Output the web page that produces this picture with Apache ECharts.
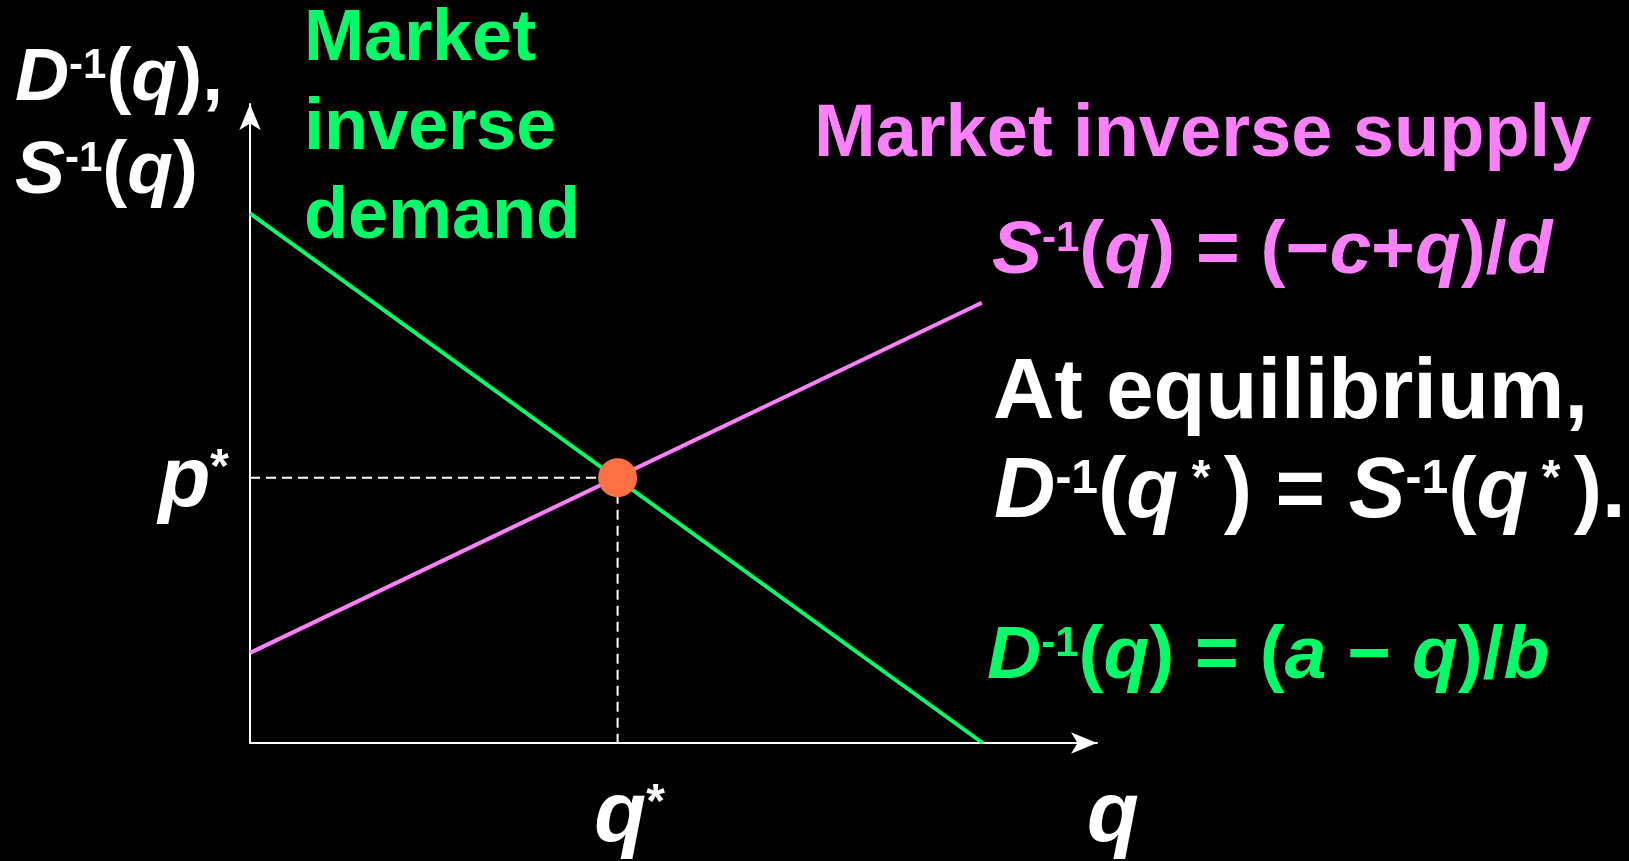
<!DOCTYPE html>
<html>
<head>
<meta charset="utf-8">
<title>Market equilibrium</title>
<script src="https://cdn.jsdelivr.net/npm/echarts@6/dist/echarts.min.js"></script>
<style>
  html, body { margin: 0; padding: 0; background: #000; }
  #chart { width: 1629px; height: 861px; }
</style>
</head>
<body>
<div id="chart"></div>
<script>
// values (axis units 0..100)
const demandPts = [[0, 82.9], [86.5, 0]]
const supplyPts = [[0, 14.1], [86.4, 68.9]]
const qStar = 43.4
const pStar = 41.5
const eqPoint = [[qStar, pStar]]
const xTicks = [qStar]
const yTicks = [pStar]
const hGuide = [[0, pStar], [qStar, pStar]]
const vGuide = [[qStar, pStar], [qStar, 0]]

const FONT = "'Liberation Sans', Arial, Helvetica, sans-serif"
const GREEN = '#00ff66'
const PINK = '#ff80ff'
const WHITE = '#ffffff'
const DOT = '#ff7043'

// rich styles: r = upright, i = italic, s = superscript
function richFor(fs, lh, color) {
  const base = {
    fontFamily: FONT, fontWeight: 'bold', fontSize: fs,
    lineHeight: lh, color, fill: color, align: 'left',
  }
  return {
    r: { ...base },
    i: { ...base, fontStyle: 'italic' },
    s: { ...base, fontSize: Math.round(fs * 0.56), padding: [0, 0, Math.round(fs * 0.33), 0] },
  }
}

// top of a text block whose first baseline is at `baseline`
function topFor(baseline, fs, lh) {
  return baseline - lh / 2 - 0.3465 * fs
}

function label(x, baseline, fs, lh, color, text) {
  return {
    type: 'text',
    x,
    y: topFor(baseline, fs, lh),
    silent: true,
    style: {
      text,
      rich: richFor(fs, lh, color),
      fontFamily: FONT, fontWeight: 'bold', fontSize: fs, lineHeight: lh,
      fill: color,
      align: 'left',
      verticalAlign: 'top',
    },
  }
}

const chart = echarts.init(document.getElementById('chart'))

const option = {
  backgroundColor: '#000',
  animation: false,
  grid: { left: 250, right: 532, top: 104, bottom: 118, outerBoundsMode: 'none' },
  xAxis: {
    type: 'value',
    min: 0,
    max: 100,
    name: '{i|q}',
    nameLocation: 'end',
    nameGap: -10,
    nameMoveOverlap: false,
    nameTextStyle: {
      align: 'left', verticalAlign: 'top', padding: [32, 0, 0, 0],
      rich: richFor(85, 85, WHITE),
    },
    axisLine: {
      show: true,
      lineStyle: { color: WHITE, width: 2 },
      symbol: ['none', 'arrow'],
      symbolSize: [16, 26],
    },
    axisTick: { show: false },
    splitLine: { show: false },
    axisLabel: {
      customValues: xTicks,
      margin: 32,
      padding: [0, 0, 0, 24],
      formatter: () => '{i|q}{s|*}',
      rich: richFor(85, 85, WHITE),
    },
  },
  yAxis: {
    type: 'value',
    min: 0,
    max: 100,
    name: '{i|D}{s|-1}{r|(}{i|q}{r|),}\n{i|S}{s|-1}{r|(}{i|q}{r|)}',
    nameLocation: 'end',
    nameGap: 71.5,
    nameMoveOverlap: false,
    nameTextStyle: {
      align: 'right', verticalAlign: 'top', padding: [0, 27, 0, 0],
      lineHeight: 93,
      rich: richFor(75, 93, WHITE),
    },
    axisLine: {
      show: true,
      lineStyle: { color: WHITE, width: 2 },
      symbol: ['none', 'arrow'],
      symbolSize: [16, 26],
    },
    axisTick: { show: false },
    splitLine: { show: false },
    axisLabel: {
      customValues: yTicks,
      margin: 21,
      padding: [9, 0, 0, 0],
      formatter: () => '{i|p}{s|*}',
      rich: richFor(85, 85, WHITE),
    },
  },
  series: [
    {
      name: 'p* guide', type: 'line', data: hGuide, z: 1, silent: true,
      showSymbol: false, lineStyle: { color: WHITE, width: 2, type: [10, 6] },
    },
    {
      name: 'q* guide', type: 'line', data: vGuide, z: 1, silent: true,
      showSymbol: false, lineStyle: { color: WHITE, width: 2, type: [10, 6] },
    },
    {
      name: 'Market inverse demand', type: 'line', data: demandPts, z: 2,
      showSymbol: false, lineStyle: { color: GREEN, width: 4 },
    },
    {
      name: 'Market inverse supply', type: 'line', data: supplyPts, z: 2,
      showSymbol: false, lineStyle: { color: PINK, width: 4 },
    },
    {
      name: 'Equilibrium', type: 'scatter', data: eqPoint, z: 5,
      symbolSize: 39, itemStyle: { color: DOT, opacity: 1 },
    },
  ],
  graphic: [
    label(304, 65, 72, 89, GREEN, '{r|Market}\n{r|inverse}\n{r|demand}'),
    label(814, 161, 74, 74, PINK, '{r|Market inverse supply}'),
    label(992, 278, 75, 75, PINK,
      '{i|S}{s|-1}{r|(}{i|q}{r|) = (−}{i|c}{r|+}{i|q}{r|)/}{i|d}'),
    label(993, 424, 85, 85, WHITE, '{r|At equilibrium,}'),
    label(994, 523, 85, 85, WHITE,
      '{i|D}{s|-1}{r|(}{i|q}{s| * }{r|) = }{i|S}{s|-1}{r|(}{i|q}{s| * }{r|).}'),
    label(987, 683, 75, 75, GREEN,
      '{i|D}{s|-1}{r|(}{i|q}{r|) = (}{i|a}{r| − }{i|q}{r|)/}{i|b}'),
  ],
}

chart.setOption(option)
window.addEventListener('resize', () => chart.resize())
</script>
</body>
</html>
